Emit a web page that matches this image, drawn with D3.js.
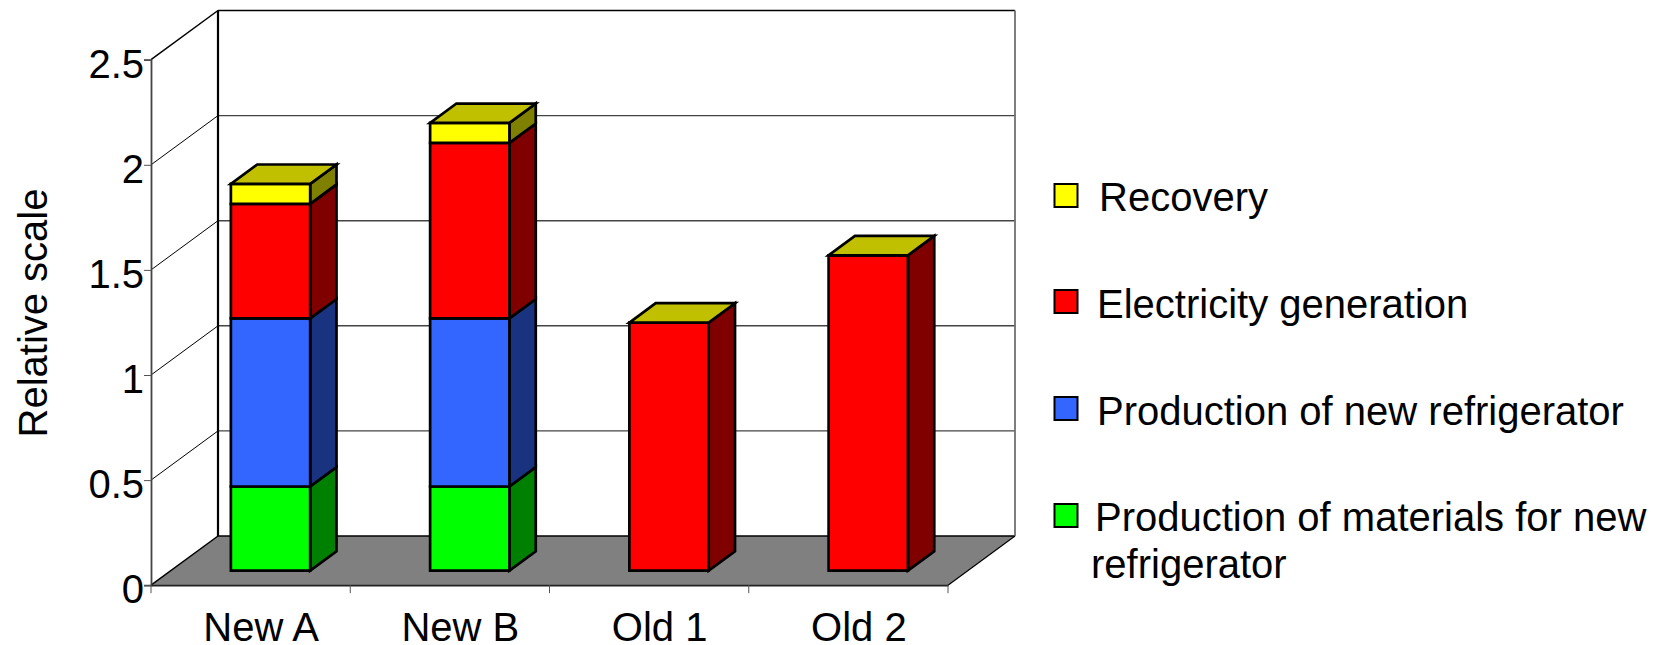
<!DOCTYPE html>
<html>
<head>
<meta charset="utf-8">
<script src="https://cdnjs.cloudflare.com/ajax/libs/d3/7.8.5/d3.min.js"></script>
<style>
html, body { margin: 0; padding: 0; background: #fff; overflow: hidden; }
svg { display: block; }
text { font-family: "Liberation Sans", Arial, sans-serif; fill: #000; }
</style>
</head>
<body>
<svg id="chart" width="1655" height="645"></svg>
<script>
const categories = ["New A", "New B", "Old 1", "Old 2"];
const seriesNames = ["Production of materials for new refrigerator", "Production of new refrigerator", "Electricity generation", "Recovery"];
const materials = [0.4, 0.4, 0, 0];
const newFridge = [0.8, 0.8, 0, 0];
const electricity = [0.545, 0.835, 1.18, 1.5];
const recovery = [0.095, 0.095, 0, 0];
const yTicks = [0, 0.5, 1, 1.5, 2, 2.5];
const yTickLabels = ["0", "0.5", "1", "1.5", "2", "2.5"];
const faceColours = ["#00ff00", "#3366ff", "#ff0000", "#ffff00"];
const sideColours = ["#008000", "#1a3380", "#800000", "#808000"];
const capColour = "#c0c000";
const floorColour = "#808080";

const svg = d3.select("#chart");

// Oblique projection: depth runs from the front plane (0) to the back wall (1).
const originX = 151, originY = 585.2, plotRight = 948;
const depthX = 67, depthY = -49.2;
const xBand = d3.scaleBand().domain(categories).range([originX, plotRight]);
const yScale = d3.scaleLinear().domain([0, 2.5]).range([originY, originY - 525.5]);
const barWidth = xBand.bandwidth() * 0.398;
const barDepthStart = 0.297, barDepthEnd = 0.69;

const project = (x, v, depth) => [x + depth * depthX, yScale(v) + depth * depthY];
const poly = pts => pts.map(p => p.join(",")).join(" ");

// Floor
svg.append("polygon")
  .attr("points", poly([project(originX, 0, 0), project(plotRight, 0, 0), project(plotRight, 0, 1), project(originX, 0, 1)]))
  .attr("fill", floorColour);

// Wall gridlines: along the side wall, then across the back wall
const walls = svg.append("g").attr("fill", "none");
yTicks.forEach(t => {
  const a = project(originX, t, 0), b = project(originX, t, 1), c = project(plotRight, t, 1);
  const top = t === 2.5, base = t === 0;
  walls.append("line").attr("x1", a[0]).attr("y1", a[1]).attr("x2", b[0]).attr("y2", b[1])
    .attr("stroke", "#000").attr("stroke-width", top || base ? 1.5 : 1);
  walls.append("line").attr("x1", b[0]).attr("y1", b[1]).attr("x2", c[0]).attr("y2", c[1])
    .attr("stroke", top || base ? "#000" : "#444").attr("stroke-width", top || base ? 1.5 : 1.4);
});
const wallTop = project(originX, 2.5, 1), wallBottom = project(originX, 0, 1);
walls.append("line").attr("x1", wallTop[0]).attr("y1", wallTop[1]).attr("x2", wallBottom[0]).attr("y2", wallBottom[1])
  .attr("stroke", "#000").attr("stroke-width", 2.2);
const rightTop = project(plotRight, 2.5, 1), rightBottom = project(plotRight, 0, 1);
walls.append("line").attr("x1", rightTop[0]).attr("y1", rightTop[1]).attr("x2", rightBottom[0]).attr("y2", rightBottom[1])
  .attr("stroke", "#707070").attr("stroke-width", 1.8);
walls.append("line").attr("x1", plotRight).attr("y1", originY).attr("x2", rightBottom[0]).attr("y2", rightBottom[1])
  .attr("stroke", "#000").attr("stroke-width", 1.2);

// Stacked boxes
const stackRows = categories.map((c, i) => ({ category: c, s0: materials[i], s1: newFridge[i], s2: electricity[i], s3: recovery[i] }));
const stacked = d3.stack().keys(["s0", "s1", "s2", "s3"])(stackRows);
const bars = svg.append("g").attr("stroke", "#000").attr("stroke-width", 2.7).attr("stroke-linejoin", "miter");

categories.forEach((c, i) => {
  const x0 = xBand(c) + (xBand.bandwidth() - barWidth) / 2;
  const x1 = x0 + barWidth;
  stacked.forEach((layer, k) => {
    const [v0, v1] = layer[i];
    if (v1 - v0 <= 0) return;
    bars.append("polygon")
      .attr("points", poly([project(x1, v0, barDepthStart), project(x1, v0, barDepthEnd), project(x1, v1, barDepthEnd), project(x1, v1, barDepthStart)]))
      .attr("fill", sideColours[k]);
    bars.append("polygon")
      .attr("points", poly([project(x0, v0, barDepthStart), project(x1, v0, barDepthStart), project(x1, v1, barDepthStart), project(x0, v1, barDepthStart)]))
      .attr("fill", faceColours[k]);
  });
  const total = stacked[stacked.length - 1][i][1];
  bars.append("polygon")
    .attr("points", poly([project(x0, total, barDepthStart), project(x1, total, barDepthStart), project(x1, total, barDepthEnd), project(x0, total, barDepthEnd)]))
    .attr("fill", capColour);
});

// Front axes
const yAxis = d3.axisLeft(yScale).tickValues(yTicks).tickFormat((d, i) => yTickLabels[i]).tickSize(7).tickPadding(0);
const yG = svg.append("g").attr("transform", `translate(${originX},0)`).call(yAxis);
yG.select(".domain").attr("stroke", "#444").attr("stroke-width", 1.8);
yG.selectAll(".tick line").attr("stroke", "#555").attr("stroke-width", 1);
yG.selectAll(".tick text").attr("font-size", 40).attr("dy", "0.44em").style("font-family", '"Liberation Sans", Arial, sans-serif');

const xAxis = d3.axisBottom(xBand).tickValues([]).tickSize(0);
const xG = svg.append("g").attr("transform", `translate(0,${originY})`).call(xAxis);
xG.select(".domain").attr("stroke", "#222").attr("stroke-width", 1.8);
const xEdges = categories.map(c => xBand(c)).concat([plotRight]);
xG.selectAll("line.edge").data(xEdges).join("line").attr("class", "edge")
  .attr("x1", d => d).attr("x2", d => d).attr("y1", 0).attr("y2", 8)
  .attr("stroke", "#555").attr("stroke-width", 1);
xG.selectAll("text.cat").data(categories).join("text").attr("class", "cat")
  .attr("x", d => xBand(d) + xBand.bandwidth() / 2 + 10.5)
  .attr("y", 55.5).attr("text-anchor", "middle").attr("font-size", 40).text(d => d);

// Value axis title
svg.append("text").attr("transform", "translate(47,313) rotate(-90)")
  .attr("text-anchor", "middle").attr("font-size", 40).text("Relative scale");

// Legend, top entry first
const legendRows = [
  { name: seriesNames[3], colour: faceColours[3], swatchY: 184, lines: [{ x: 1099, y: 211 }] },
  { name: seriesNames[2], colour: faceColours[2], swatchY: 290, lines: [{ x: 1097, y: 318 }] },
  { name: seriesNames[1], colour: faceColours[1], swatchY: 397, lines: [{ x: 1097, y: 425 }] },
  { name: seriesNames[0], colour: faceColours[0], swatchY: 504, lines: [{ x: 1095, y: 531 }, { x: 1091, y: 578 }] }
];
const legend = svg.append("g");
legendRows.forEach(row => {
  legend.append("rect").attr("x", 1054.5).attr("y", row.swatchY).attr("width", 23).attr("height", 23)
    .attr("fill", row.colour).attr("stroke", "#000").attr("stroke-width", 2);
  const parts = row.lines.length > 1 ? ["Production of materials for new", "refrigerator"] : [row.name];
  parts.forEach((t, i) => {
    legend.append("text").attr("x", row.lines[i].x).attr("y", row.lines[i].y).attr("font-size", 40).text(t);
  });
});
</script>
</body>
</html>
